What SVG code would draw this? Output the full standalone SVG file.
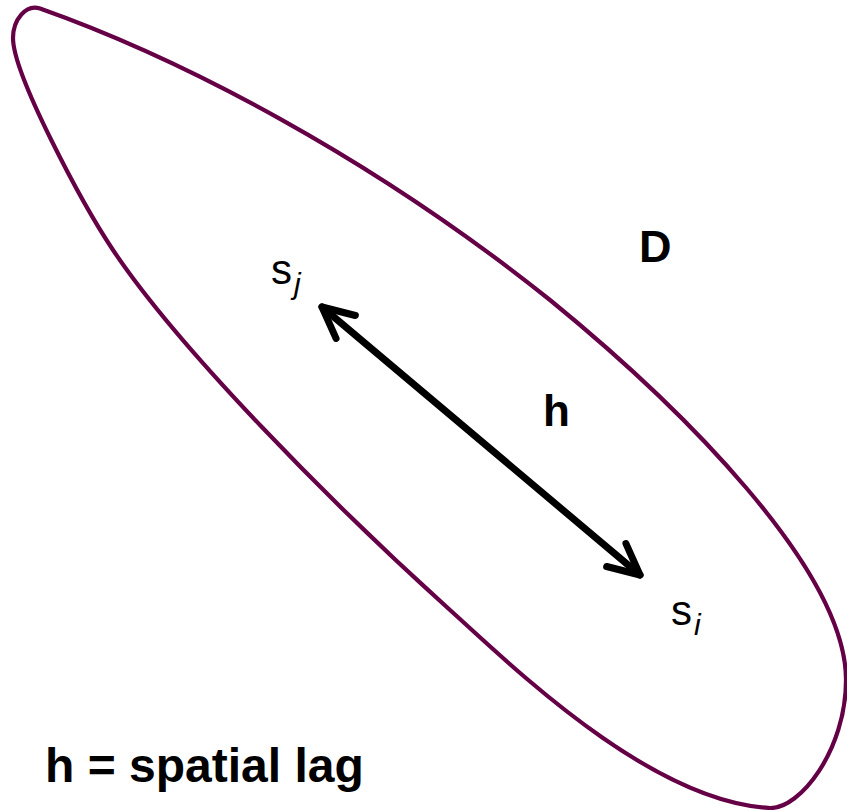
<svg xmlns="http://www.w3.org/2000/svg" width="847" height="810" viewBox="0 0 847 810">
<style>
.region{fill:none;stroke:#650046;stroke-width:4.2}
.lag{fill:none;stroke:#000;stroke-width:7;stroke-linecap:round;stroke-linejoin:round}
.chev{fill:none;stroke:#000;stroke-width:7;stroke-linecap:round;stroke-linejoin:round}
.t{font-family:"Liberation Sans",Arial,sans-serif;fill:#000}
.b{font-weight:bold}
.sub{font-style:italic}
</style>
<defs>
<marker id="chev" markerUnits="userSpaceOnUse" viewBox="-40 -25 50 50" markerWidth="50" markerHeight="50" refX="0" refY="0" orient="auto-start-reverse" overflow="visible">
<path class="chev" d="M -31,-15 L 0,0 L -31,15"/>
</marker>
</defs>
<rect width="847" height="810" fill="#fff"/>
<g id="region-D">
<path class="region" d="M 40,8.5 C 180,58 370,156 550,300 C 680,406 846,570 846,680 C 846,750 800,809 770,808 C 650,802 510,664 450,610 C 330,502 178,347.5 113,250 C 83,205 13,75 13,38 C 13,20 26,3.5 40,8.5 Z"/>
<text class="t b" x="639" y="262" font-size="45">D</text>
</g>
<g id="node-sj">
<text class="t" x="271" y="284" font-size="42">s<tspan class="sub" font-size="30" dx="2" dy="10">j</tspan></text>
</g>
<g id="node-si">
<text class="t" x="671" y="625" font-size="42">s<tspan class="sub" font-size="30" dx="2" dy="10">i</tspan></text>
</g>
<g id="connectors">
<path class="lag" d="M 322,307 L 640,575" marker-start="url(#chev)" marker-end="url(#chev)"/>
<text class="t b" x="543" y="426" font-size="44">h</text>
</g>
<g id="legend">
<text class="t b" x="45" y="782" font-size="48">h = spatial lag</text>
</g>
</svg>
